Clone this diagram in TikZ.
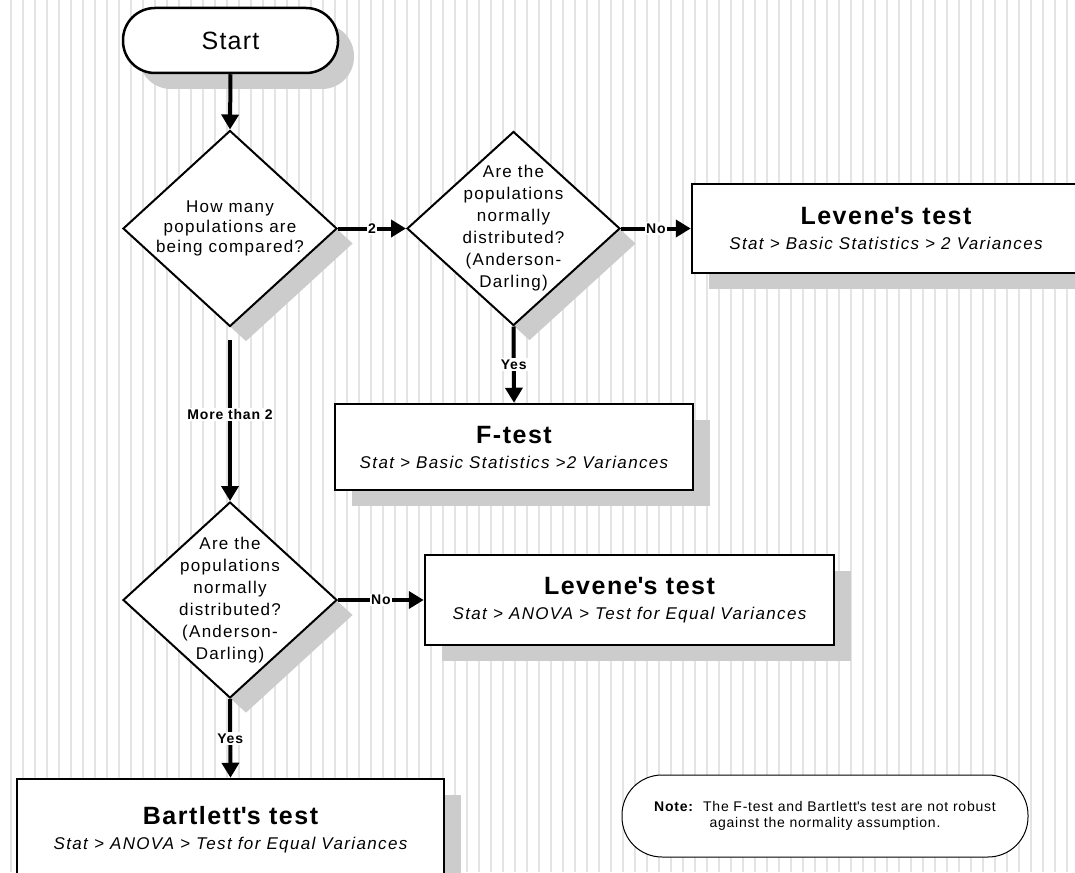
\documentclass[tikz,border=0pt]{standalone}
\usepackage{fontspec}
\setmainfont{Liberation Sans}
\usetikzlibrary{shapes.geometric,arrows.meta,shadows}
\definecolor{stripe}{RGB}{228,228,228}
\definecolor{shade}{RGB}{204,204,204}
\newcommand{\apos}{\textquotesingle}
\newcommand{\ttlfont}{\fontsize{25}{25}\selectfont\bfseries\addfontfeatures{LetterSpace=6}}
\newcommand{\subfont}{\fontsize{17}{25}\selectfont\itshape\addfontfeatures{LetterSpace=8}}
\tikzset{
  boxshadow/.style={drop shadow={shadow xshift=17pt, shadow yshift=-16pt, opacity=1, fill=shade}},
  dshadow/.style={drop shadow={shadow xshift=16pt, shadow yshift=-15pt, opacity=1, fill=shade}},
  procbox/.style={rectangle, draw, line width=2.5pt, fill=white, align=center, inner sep=0pt, boxshadow,
    font=\fontsize{17}{25}\selectfont},
  decbox/.style={diamond, draw, line width=2pt, fill=white, align=center, inner sep=-50pt, dshadow,
    minimum width=214pt, minimum height=196pt},
  dfontA/.style={font=\fontsize{17}{20}\selectfont\addfontfeatures{LetterSpace=7.5}},
  dfontB/.style={font=\fontsize{17}{22}\selectfont\addfontfeatures{LetterSpace=7.5}},
  arr/.style={line width=4pt, -{Triangle[length=15pt,width=17pt]}},
  lab/.style={fill=white, inner sep=1.5pt, font=\fontsize{14}{15}\selectfont\bfseries\addfontfeatures{LetterSpace=6}},
}
\begin{document}
\begin{tikzpicture}[x=1pt,y=-1pt]
\clip (0,0) rectangle (1075,872);
\fill[white] (0,0) rectangle (1075,872);
\foreach \x in {11,23,...,1075} \draw[stripe, line width=1.5pt] (\x,0) -- (\x,872);

\node[rectangle, draw, line width=2.5pt, fill=white, rounded corners=32pt,
  drop shadow={shadow xshift=16pt, shadow yshift=-16pt, opacity=1, fill=shade},
  minimum width=215pt, minimum height=65pt, inner sep=0pt,
  font=\fontsize{25}{26}\selectfont\addfontfeatures{LetterSpace=5}] (start) at (230.5,40.5) {Start};

\node[decbox, dfontA] (d1) at (230,228.5) {How many\\populations are\\being compared?};
\node[decbox, dfontB, minimum width=213pt, minimum height=194pt] (d2) at (513.5,228.5)
  {Are the\\populations\\normally\\distributed?\\(Anderson-\\Darling)};
\node[decbox, dfontB] (d3) at (230,600)
  {Are the\\populations\\normally\\distributed?\\(Anderson-\\Darling)};

\node[procbox, minimum width=388pt, minimum height=89pt] (lev1) at (886,228.5)
  {{\ttlfont Levene\apos s test}\\{\subfont Stat > Basic Statistics > 2 Variances}};
\node[procbox, minimum width=358pt, minimum height=86pt] (ftest) at (514,447)
  {{\ttlfont F-test}\\{\subfont Stat > Basic Statistics >2 Variances}};
\node[procbox, minimum width=409pt, minimum height=90pt] (lev2) at (629.5,600)
  {{\ttlfont Levene\apos s test}\\{\subfont Stat > ANOVA > Test for Equal Variances}};
\node[procbox, minimum width=427pt, minimum height=102pt] (bart) at (230.5,830)
  {{\ttlfont Bartlett\apos s test}\\{\subfont Stat > ANOVA > Test for Equal Variances}};

\node[rectangle, draw, line width=1pt, fill=white, rounded corners=40pt,
  minimum width=406pt, minimum height=82pt, inner sep=0pt, align=center,
  font=\fontsize{14}{16}\selectfont\addfontfeatures{LetterSpace=5.5}] (note) at (825,816)
  {\textbf{Note:}\ \ The F-test and Bartlett\apos s test are not robust\\against the normality assumption.};

\draw[arr] (start.south) -- (d1.north);
\draw[arr] (d1.east) -- node[lab] {2} (d2.west);
\draw[arr] (d2.east) -- node[lab] {No} (lev1.west);
\draw[arr] (d2.south) -- node[lab] {Yes} (ftest.north);
\draw[arr, shorten <=12pt] (d1.south) -- node[lab] {More than 2} (d3.north);
\draw[arr] (d3.east) -- node[lab] {No} (lev2.west);
\draw[arr] (d3.south) -- node[lab] {Yes} (bart.north);
\end{tikzpicture}
\end{document}
